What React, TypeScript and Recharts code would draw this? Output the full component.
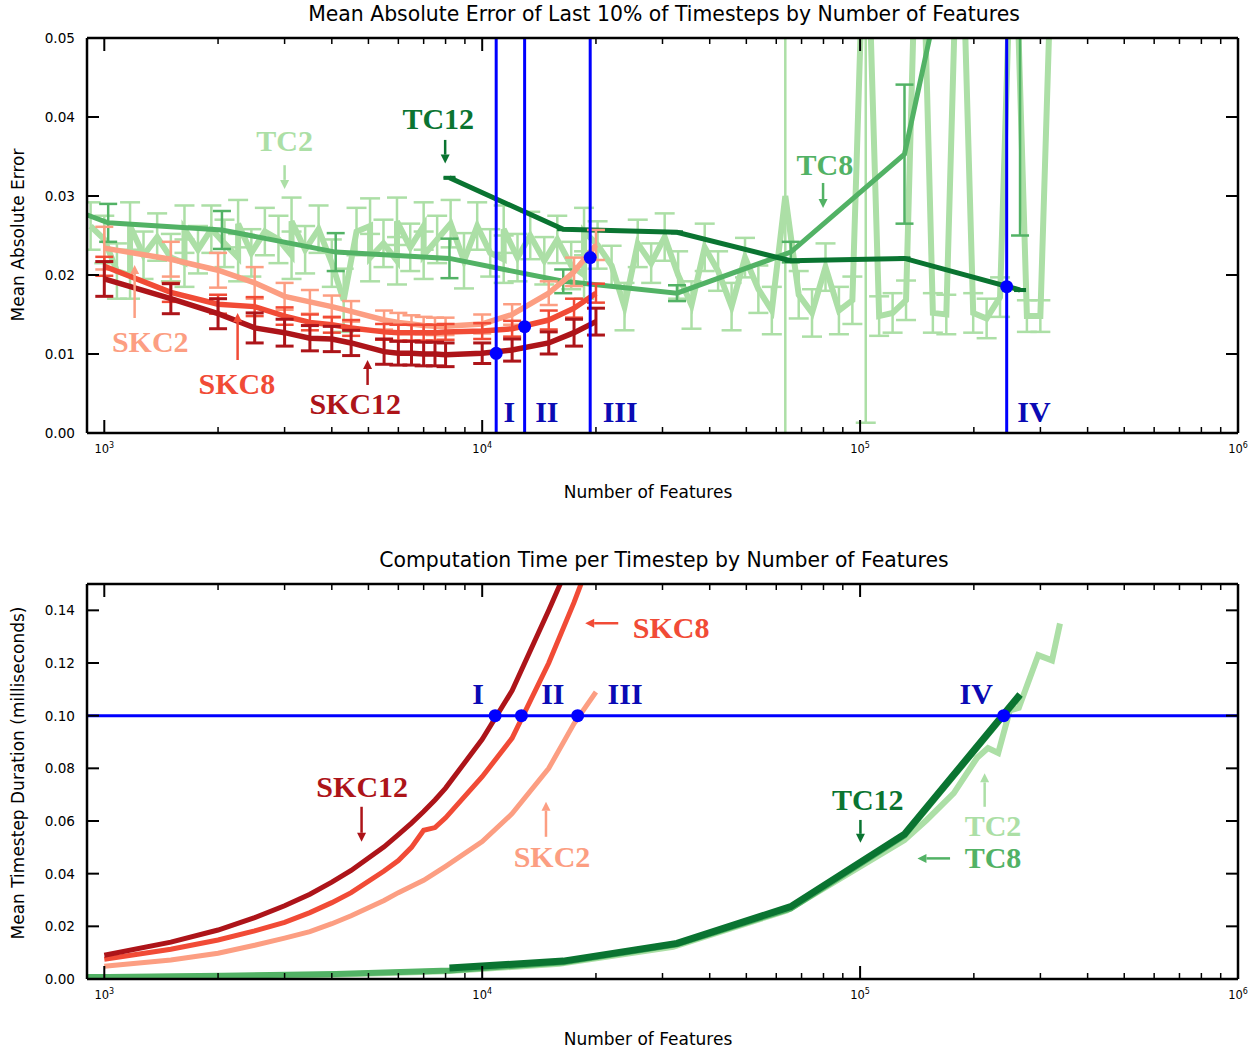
import React from 'react';
import { ComposedChart, Line, XAxis, YAxis, ErrorBar, ReferenceLine, ReferenceDot } from 'recharts';

const SANS = "'DejaVu Sans', sans-serif";
const SERIF = "'Liberation Serif', 'DejaVu Serif', serif";

const COLORS = {
  skc12: '#ad1419',
  skc8: '#f14b36',
  skc2: '#fc9e82',
  tc12: '#0a7431',
  tc8: '#52b265',
  tc2: '#acdfa6',
  blue: '#0000ff',
  roman: '#0a0ab4',
};

// ---------- ticks ----------
const xMajorTicks = [1000, 10000, 100000, 1000000];
const xMinorTicks = [
  2000, 3000, 4000, 5000, 6000, 7000, 8000, 9000,
  20000, 30000, 40000, 50000, 60000, 70000, 80000, 90000,
  200000, 300000, 400000, 500000, 600000, 700000, 800000, 900000,
];
const xTicks = [...xMajorTicks, ...xMinorTicks].sort((a, b) => a - b);
const xDomain = [900, 1000000];
const maeTicks = [0, 0.01, 0.02, 0.03, 0.04, 0.05];
const timeTicks = [0, 0.02, 0.04, 0.06, 0.08, 0.1, 0.12, 0.14];

// ---------- SKC series ----------
const skcFeatures = [1000, 1500, 2000, 2500, 3000, 3500, 4000, 4500, 5500, 6000, 6500, 7000, 7500, 8000, 10000, 12000, 15000, 17500, 20000];
const maeSKC12 = [0.0195, 0.0170, 0.0151, 0.0133, 0.0127, 0.0120, 0.0119, 0.0114, 0.0103, 0.0101, 0.0101, 0.0100, 0.0100, 0.0099, 0.0101, 0.0105, 0.0114, 0.0127, 0.0141];
const errSKC12 = [0.0022, 0.0019, 0.0019, 0.0019, 0.0017, 0.0016, 0.0016, 0.0016, 0.0016, 0.0015, 0.0015, 0.0015, 0.0015, 0.0015, 0.0013, 0.0014, 0.0014, 0.0017, 0.0017];
const maeSKC8 = [0.0211, 0.0178, 0.0163, 0.0160, 0.0148, 0.0140, 0.0137, 0.0133, 0.0128, 0.0127, 0.0127, 0.0127, 0.0127, 0.0128, 0.0129, 0.0132, 0.0143, 0.0158, 0.0177];
const errSKC8 = [0.0012, 0.0012, 0.0012, 0.0012, 0.0011, 0.0010, 0.0010, 0.0010, 0.0010, 0.0010, 0.0010, 0.0010, 0.0010, 0.0010, 0.0010, 0.0010, 0.0012, 0.0012, 0.0012];
const maeSKC2 = [0.0234, 0.0220, 0.0206, 0.0190, 0.0173, 0.0166, 0.0160, 0.0154, 0.0143, 0.0140, 0.0138, 0.0136, 0.0135, 0.0135, 0.0138, 0.0150, 0.0177, 0.0204, 0.0238];
const errSKC2 = [0.0027, 0.0022, 0.0022, 0.0020, 0.0017, 0.0015, 0.0014, 0.0013, 0.0012, 0.0012, 0.0011, 0.0011, 0.0011, 0.0011, 0.0012, 0.0013, 0.0015, 0.0018, 0.0019];
const timeSKC12 = [0.0090, 0.0140, 0.0186, 0.0233, 0.0278, 0.0322, 0.0368, 0.0412, 0.0502, 0.0548, 0.0592, 0.0636, 0.0680, 0.0725, 0.0910, 0.1095, 0.1400, 0.1620, 0.1850];
const timeSKC8 = [0.0075, 0.0113, 0.0148, 0.0183, 0.0215, 0.0252, 0.0290, 0.0328, 0.0410, 0.0450, 0.0500, 0.0565, 0.0575, 0.0612, 0.0768, 0.0915, 0.1200, 0.1430, 0.1650];
const timeSKC2 = [0.0048, 0.0072, 0.0098, 0.0128, 0.0155, 0.0180, 0.0210, 0.0240, 0.0298, 0.0328, 0.0352, 0.0375, 0.0402, 0.0428, 0.0522, 0.0628, 0.0800, 0.0970, 0.1090];

// ---------- TC8 / TC12 series ----------
const tc8Features = [512, 1024, 2048, 4096, 8192, 16384, 32768, 65536, 131072, 265000];
const maeTC8 = [0.0320, 0.0266, 0.0257, 0.0229, 0.0221, 0.0192, 0.0177, 0.0229, 0.0353, 0.1030];
const errTC8 = [0.0030, 0.0024, 0.0024, 0.0024, 0.0025, 0.0015, 0.0010, 0.0013, 0.0088, 0.0780];
const timeTC8 = [0.0005, 0.0008, 0.0012, 0.0019, 0.0032, 0.0064, 0.0132, 0.0268, 0.0545, 0.1075];

const tc12Features = [8192, 16384, 32768, 65536, 131072, 265000];
const maeTC12 = [0.0323, 0.0258, 0.0254, 0.0218, 0.0221, 0.0181];
const errTC12 = [0.0001, 0.0001, 0.0001, 0.0001, 0.0001, 0.0001];
const timeTC12 = [0.0042, 0.0068, 0.0135, 0.0275, 0.0550, 0.1080];

// ---------- TC2 series (run order, some feature counts repeat) ----------
const tc2MaeFeatures = [
  920, 1000, 1080, 1170, 1170, 1270, 1380, 1500, 1630, 1630, 1770, 1920, 2080, 2260, 2260, 2450, 2660, 2890,
  3130, 3130, 3400, 3690, 4000, 4300, 4650, 5050, 5050, 5480, 5950, 5950, 6450, 7000, 7000, 7600, 8250, 8950,
  9700, 10500, 11400, 11400, 12400, 13400, 14600, 15800, 17200, 18600, 18600, 20200,
  22000, 23800, 25800, 28000, 30400, 33000, 35800, 38800, 42100, 45700, 49600,
  53800, 58400, 63400, 68800, 74600, 81000, 87900, 95400, 103500, 112300, 121900, 132300, 143600, 155800,
  169100, 183500, 199200, 216200, 234600, 254600, 276300, 299900, 325500,
];
const maeTC2 = [
  0.0262, 0.0245, 0.0205, 0.0200, 0.0262, 0.0225, 0.0248, 0.0222, 0.0215, 0.0258, 0.0232, 0.0258, 0.0240, 0.0222, 0.0265, 0.0228, 0.0255, 0.0245,
  0.0225, 0.0268, 0.0232, 0.0258, 0.0215, 0.0168, 0.0255, 0.0262, 0.0222, 0.0240, 0.0218, 0.0268, 0.0235, 0.0262, 0.0225, 0.0245, 0.0265, 0.0218,
  0.0262, 0.0228, 0.0220, 0.0258, 0.0222, 0.0250, 0.0218, 0.0245, 0.0212, 0.0200, 0.0255, 0.0238,
  0.0212, 0.0160, 0.0240, 0.0215, 0.0248, 0.0200, 0.0162, 0.0235, 0.0205, 0.0160, 0.0222,
  0.0182, 0.0155, 0.0300, 0.0175, 0.0152, 0.0210, 0.0155, 0.0168, 0.0720, 0.0148, 0.0152, 0.0168, 0.0800, 0.0152,
  0.0150, 0.0750, 0.0152, 0.0145, 0.0172, 0.0720, 0.0148, 0.0148, 0.0700,
];
const errTC2 = [
  0.0030, 0.0030, 0.0035, 0.0030, 0.0030, 0.0030, 0.0030, 0.0030, 0.0030, 0.0030, 0.0030, 0.0030, 0.0030, 0.0030, 0.0030, 0.0030, 0.0030, 0.0030,
  0.0030, 0.0030, 0.0030, 0.0030, 0.0030, 0.0040, 0.0030, 0.0035, 0.0030, 0.0030, 0.0030, 0.0030, 0.0030, 0.0030, 0.0030, 0.0030, 0.0030, 0.0035,
  0.0030, 0.0030, 0.0030, 0.0030, 0.0030, 0.0030, 0.0030, 0.0030, 0.0030, 0.0030, 0.0030, 0.0030,
  0.0025, 0.0030, 0.0030, 0.0025, 0.0030, 0.0030, 0.0030, 0.0030, 0.0025, 0.0030, 0.0025,
  0.0030, 0.0030, 0.0310, 0.0030, 0.0030, 0.0030, 0.0030, 0.0030, 0.0707, 0.0025, 0.0025, 0.0025, 0.0030, 0.0025,
  0.0025, 0.0030, 0.0025, 0.0025, 0.0025, 0.0030, 0.0020, 0.0020, 0.0030,
];
const tc2TimeFeatures = [900, 1000, 2000, 4000, 8000, 16000, 32000, 64000, 131000, 150000, 177000, 204000, 218000, 232000, 249000, 263000, 296000, 322000, 338000];
const timeTC2 = [0.0005, 0.0006, 0.0010, 0.0016, 0.0029, 0.0058, 0.0122, 0.0260, 0.0528, 0.0604, 0.0706, 0.0840, 0.0877, 0.0858, 0.1020, 0.1030, 0.1230, 0.1210, 0.1350];

// ---------- budget markers ----------
const maeMarkerX = [10890, 12950, 19310, 244300];
const maeMarkerY = [0.01008, 0.01346, 0.0222, 0.01852];
const timeMarkerX = [10820, 12700, 17890, 239900];
const timeBudget = 0.1;
const romanLabels = ['I', 'II', 'III', 'IV'];
const maeRomanX = [11790, 14830, 23180, 288600];
const maeRomanY = 0.00266;
const timeRomanX = [9750, 15380, 23880, 202900];
const timeRomanY = 0.1082;

// ---------- annotations ----------
type Note = { text: string; x: number; y: number; color: string };
type Arrow = { x1: number; y1: number; x2: number; y2: number; color: string };

const maeNotes: Note[] = [
  { text: 'TC2', x: 3000, y: 0.0370, color: COLORS.tc2 },
  { text: 'TC12', x: 7650, y: 0.03975, color: COLORS.tc12 },
  { text: 'TC8', x: 80700, y: 0.0339, color: COLORS.tc8 },
  { text: 'SKC2', x: 1323, y: 0.01152, color: COLORS.skc2 },
  { text: 'SKC8', x: 2244, y: 0.0062, color: COLORS.skc8 },
  { text: 'SKC12', x: 4615, y: 0.00367, color: COLORS.skc12 },
];
const maeArrows: Arrow[] = [
  { x1: 3000, y1: 0.0339, x2: 3000, y2: 0.0309, color: COLORS.tc2 },
  { x1: 7980, y1: 0.0371, x2: 7980, y2: 0.0341, color: COLORS.tc12 },
  { x1: 79800, y1: 0.03165, x2: 79800, y2: 0.02848, color: COLORS.tc8 },
  { x1: 1203, y1: 0.01456, x2: 1203, y2: 0.02127, color: COLORS.skc2 },
  { x1: 2253, y1: 0.00924, x2: 2253, y2: 0.01519, color: COLORS.skc8 },
  { x1: 4974, y1: 0.00608, x2: 4974, y2: 0.00924, color: COLORS.skc12 },
];
const timeNotes: Note[] = [
  { text: 'SKC8', x: 31620, y: 0.1333, color: COLORS.skc8 },
  { text: 'SKC12', x: 4814, y: 0.0729, color: COLORS.skc12 },
  { text: 'SKC2', x: 15300, y: 0.0463, color: COLORS.skc2 },
  { text: 'TC12', x: 104800, y: 0.0680, color: COLORS.tc12 },
  { text: 'TC2', x: 224800, y: 0.0581, color: COLORS.tc2 },
  { text: 'TC8', x: 224800, y: 0.0460, color: COLORS.tc8 },
];
const timeArrows: Arrow[] = [
  { x1: 22910, y1: 0.1351, x2: 18730, y2: 0.1351, color: COLORS.skc8 },
  { x1: 4795, y1: 0.0654, x2: 4795, y2: 0.0521, color: COLORS.skc12 },
  { x1: 14750, y1: 0.0540, x2: 14750, y2: 0.0673, color: COLORS.skc2 },
  { x1: 100200, y1: 0.0604, x2: 100200, y2: 0.0517, color: COLORS.tc12 },
  { x1: 213600, y1: 0.0654, x2: 213600, y2: 0.0781, color: COLORS.tc2 },
  { x1: 173000, y1: 0.0458, x2: 141800, y2: 0.0458, color: COLORS.tc8 },
];

// ---------- helpers ----------
const zip3 = (xs: number[], ys: number[], es?: number[]) =>
  xs.map((x, i) => ({ x, y: ys[i], e: es ? es[i] : 0 }));

const isMajor = (v: number) => xMajorTicks.includes(v);

const XTickBottom = (props: any) => {
  const { x, y, payload } = props;
  const v = payload.value;
  const major = isMajor(v);
  return (
    <g>
      <line x1={x} x2={x} y1={y} y2={y - (major ? 13 : 6)} stroke="#000" strokeWidth={major ? 2 : 1.5} />
      {major && (
        <text x={x} y={y + 20} textAnchor="middle" fontFamily={SANS} fontSize={11.5} fill="#000">
          10<tspan dy={-5} fontSize={8}>{Math.round(Math.log10(v))}</tspan>
        </text>
      )}
    </g>
  );
};
const XTickTop = (props: any) => {
  const { x, y, payload } = props;
  const major = isMajor(payload.value);
  return <line x1={x} x2={x} y1={y} y2={y + (major ? 13 : 6)} stroke="#000" strokeWidth={major ? 2 : 1.5} />;
};
const YTickLeft = (props: any) => {
  const { x, y, payload } = props;
  return (
    <g>
      <line x1={x} x2={x + 12} y1={y} y2={y} stroke="#000" strokeWidth={2} />
      <text x={x - 12} y={y} textAnchor="end" dominantBaseline="central" fontFamily={SANS} fontSize={13.6} fill="#000">
        {Number(payload.value).toFixed(2)}
      </text>
    </g>
  );
};
const YTickRight = (props: any) => {
  const { x, y } = props;
  return <line x1={x} x2={x - 12} y1={y} y2={y} stroke="#000" strokeWidth={2} />;
};

const noteShape = (n: Note) => (p: any) => (
  <text x={p.cx} y={p.cy} dy={10} textAnchor="middle" fill={n.color} fontFamily={SERIF} fontWeight={700} fontSize={30}>
    {n.text}
  </text>
);
const romanShape = (t: string) => (p: any) => (
  <text x={p.cx} y={p.cy} dy={10} textAnchor="middle" fill={COLORS.roman} fontFamily={SERIF} fontWeight={700} fontSize={30}>
    {t}
  </text>
);
const arrowShape = (color: string) => (p: any) => {
  const { x1, y1, x2, y2 } = p;
  const dx = x2 - x1;
  const dy = y2 - y1;
  const L = Math.hypot(dx, dy) || 1;
  const ux = dx / L;
  const uy = dy / L;
  const hl = 9;
  const hw = 4.5;
  const bx = x2 - ux * hl;
  const by = y2 - uy * hl;
  return (
    <g>
      <line x1={x1} y1={y1} x2={bx} y2={by} stroke={color} strokeWidth={2.5} />
      <polygon points={`${x2},${y2} ${bx - uy * hw},${by + ux * hw} ${bx + uy * hw},${by - ux * hw}`} fill={color} />
    </g>
  );
};

const frame = { stroke: '#000', strokeWidth: 2.5 };

const axes = (yDomain: number[], yTicks: number[]) => [
  <XAxis key="xb" dataKey="x" type="number" scale="log" domain={xDomain} allowDataOverflow ticks={xTicks} interval={0}
    tick={XTickBottom} tickLine={false} tickSize={0} tickMargin={0} height={1} axisLine={frame} />,
  <XAxis key="xt" xAxisId="top" orientation="top" dataKey="x" type="number" scale="log" domain={xDomain} allowDataOverflow
    ticks={xTicks} interval={0} tick={XTickTop} tickLine={false} tickSize={0} tickMargin={0} height={1} axisLine={frame} />,
  <YAxis key="yl" type="number" domain={yDomain} allowDataOverflow ticks={yTicks} interval={0} tick={YTickLeft}
    tickLine={false} tickSize={0} tickMargin={0} width={1} axisLine={frame} />,
  <YAxis key="yr" yAxisId="right" orientation="right" type="number" domain={yDomain} allowDataOverflow ticks={yTicks}
    interval={0} tick={YTickRight} tickLine={false} tickSize={0} tickMargin={0} width={1} axisLine={frame} />,
];

const series = (
  key: string,
  data: { x: number; y: number; e: number }[],
  color: string,
  width: number,
  err?: { w: number; sw: number }
) => (
  <Line
    key={key}
    data={data}
    dataKey="y"
    type="linear"
    stroke={color}
    strokeWidth={width}
    dot={false}
    activeDot={false}
    isAnimationActive={false}
  >
    {err && (
      <ErrorBar dataKey="e" direction="y" width={err.w} strokeWidth={err.sw} stroke={color} isAnimationActive={false} />
    )}
  </Line>
);

const clipCss = `
.chart-mae [class*="errorBar"] line { clip-path: url(#clipMae); }
.chart-time [class*="errorBar"] line { clip-path: url(#clipTime); }
`;

export default function App() {
  return (
    <div style={{ position: 'absolute', left: 0, top: 0, width: 1256, height: 1051, background: '#fff' }}>
      <style>{clipCss}</style>
      <svg width={0} height={0} style={{ position: 'absolute', left: 0, top: 0 }}>
        <defs>
          <clipPath id="clipMae" clipPathUnits="userSpaceOnUse">
            <rect x={87} y={38} width={1151} height={395} />
          </clipPath>
          <clipPath id="clipTime" clipPathUnits="userSpaceOnUse">
            <rect x={87} y={44} width={1151} height={395} />
          </clipPath>
        </defs>
      </svg>
      <div className="chart-mae" style={{ position: 'absolute', left: 0, top: 0 }}>
        <ComposedChart width={1256} height={520} margin={{ top: 37, right: 17, bottom: 86, left: 86 }}>
          {axes([0, 0.05], maeTicks)}
          {series('tc2', zip3(tc2MaeFeatures, maeTC2, errTC2), COLORS.tc2, 6, { w: 10, sw: 2.5 })}
          {series('tc8', zip3(tc8Features, maeTC8, errTC8), COLORS.tc8, 5, { w: 9, sw: 2.5 })}
          {series('tc12', zip3(tc12Features, maeTC12, errTC12), COLORS.tc12, 5, { w: 6, sw: 2.5 })}
          {series('skc2', zip3(skcFeatures, maeSKC2, errSKC2), COLORS.skc2, 5.5, { w: 9, sw: 2.5 })}
          {series('skc8', zip3(skcFeatures, maeSKC8, errSKC8), COLORS.skc8, 5.5, { w: 9, sw: 2.5 })}
          {series('skc12', zip3(skcFeatures, maeSKC12, errSKC12), COLORS.skc12, 5.5, { w: 9, sw: 3 })}
          {maeMarkerX.map((x) => (
            <ReferenceLine key={`vl${x}`} x={x} stroke={COLORS.blue} strokeWidth={3} zIndex={450} />
          ))}
          {maeMarkerX.map((x, i) => (
            <ReferenceDot key={`vd${x}`} x={x} y={maeMarkerY[i]} r={6.5} fill={COLORS.blue} stroke="none" zIndex={460} />
          ))}
          {maeRomanX.map((x, i) => (
            <ReferenceDot key={`vr${x}`} x={x} y={maeRomanY} r={0} shape={romanShape(romanLabels[i])} zIndex={470} />
          ))}
          {maeNotes.map((n) => (
            <ReferenceDot key={`n${n.text}`} x={n.x} y={n.y} r={0} shape={noteShape(n)} zIndex={470} />
          ))}
          {maeArrows.map((a, i) => (
            <ReferenceLine key={`a${i}`} segment={[{ x: a.x1, y: a.y1 }, { x: a.x2, y: a.y2 }]} shape={arrowShape(a.color)} ifOverflow="visible" zIndex={470} />
          ))}
        </ComposedChart>
      </div>
      <div className="chart-time" style={{ position: 'absolute', left: 0, top: 540 }}>
        <ComposedChart width={1256} height={511} margin={{ top: 43, right: 17, bottom: 71, left: 86 }}>
          {axes([0, 0.15], timeTicks)}
          {series('tc2t', zip3(tc2TimeFeatures, timeTC2), COLORS.tc2, 6)}
          {series('tc8t', zip3(tc8Features, timeTC8), COLORS.tc8, 6)}
          {series('tc12t', zip3(tc12Features, timeTC12), COLORS.tc12, 7)}
          {series('skc2t', zip3(skcFeatures, timeSKC2), COLORS.skc2, 5)}
          {series('skc8t', zip3(skcFeatures, timeSKC8), COLORS.skc8, 5)}
          {series('skc12t', zip3(skcFeatures, timeSKC12), COLORS.skc12, 5)}
          <ReferenceLine y={timeBudget} stroke={COLORS.blue} strokeWidth={3} zIndex={450} />
          {timeMarkerX.map((x) => (
            <ReferenceDot key={`hd${x}`} x={x} y={timeBudget} r={6.5} fill={COLORS.blue} stroke="none" zIndex={460} />
          ))}
          {timeRomanX.map((x, i) => (
            <ReferenceDot key={`hr${x}`} x={x} y={timeRomanY} r={0} shape={romanShape(romanLabels[i])} zIndex={470} />
          ))}
          {timeNotes.map((n) => (
            <ReferenceDot key={`tn${n.text}`} x={n.x} y={n.y} r={0} shape={noteShape(n)} zIndex={470} />
          ))}
          {timeArrows.map((a, i) => (
            <ReferenceLine key={`ta${i}`} segment={[{ x: a.x1, y: a.y1 }, { x: a.x2, y: a.y2 }]} shape={arrowShape(a.color)} ifOverflow="visible" zIndex={470} />
          ))}
        </ComposedChart>
      </div>
      <svg width={1256} height={1051} style={{ position: 'absolute', left: 0, top: 0, pointerEvents: 'none' }}>
        <g fontFamily={SANS} fill="#000">
          <text x={664} y={14} textAnchor="middle" dominantBaseline="central" fontSize={20.4}>
            Mean Absolute Error of Last 10% of Timesteps by Number of Features
          </text>
          <text x={648} y={492} textAnchor="middle" dominantBaseline="central" fontSize={17}>
            Number of Features
          </text>
          <text x={18} y={235} textAnchor="middle" dominantBaseline="central" fontSize={17} transform="rotate(-90 18 235)">
            Mean Absolute Error
          </text>
          <text x={664} y={560} textAnchor="middle" dominantBaseline="central" fontSize={20.4}>
            Computation Time per Timestep by Number of Features
          </text>
          <text x={648} y={1039} textAnchor="middle" dominantBaseline="central" fontSize={17}>
            Number of Features
          </text>
          <text x={18} y={773} textAnchor="middle" dominantBaseline="central" fontSize={17} transform="rotate(-90 18 773)">
            Mean Timestep Duration (milliseconds)
          </text>
        </g>
      </svg>
    </div>
  );
}
